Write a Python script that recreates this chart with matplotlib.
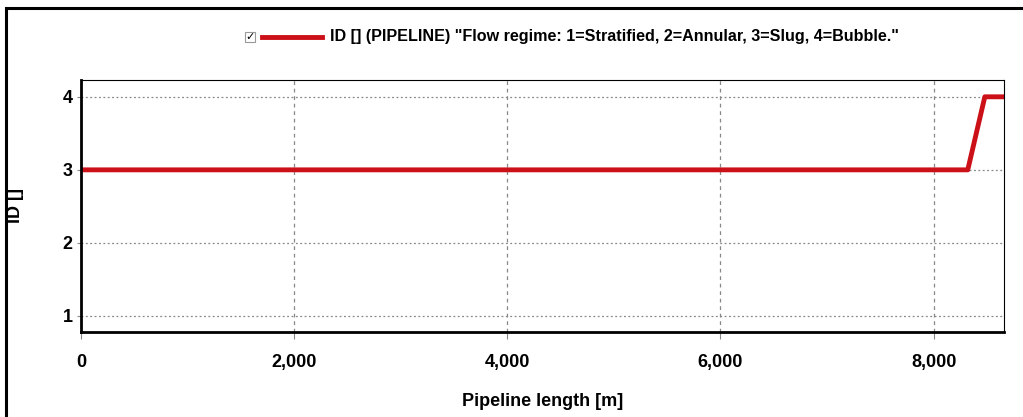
import matplotlib.pyplot as plt
from matplotlib.patches import Rectangle
from matplotlib.lines import Line2D

# pipeline profile: flow regime ID vs length
length = [0, 8320, 8480, 8660]
regime = [3, 3, 4, 4]

xticks = [0, 2000, 4000, 6000, 8000]
xticklabels = ["0", "2,000", "4,000", "6,000", "8,000"]
yticks = [1, 2, 3, 4]

legend_text = 'ID [] (PIPELINE) "Flow regime: 1=Stratified, 2=Annular, 3=Slug, 4=Bubble."'

plt.rcParams['font.family'] = ['Liberation Sans', 'DejaVu Sans']
plt.rcParams['font.weight'] = 'bold'

fig = plt.figure(figsize=(10.23, 4.17), dpi=100)
W, H = 1023, 417
red = '#cc1018'

# outer frame (clipped on right/bottom like the screenshot)
fig.patches.append(Rectangle((6 / W, -0.1), 1.2, (417 - 8) / H + 0.1,
                             transform=fig.transFigure, fill=False,
                             edgecolor='black', linewidth=2.2))

ax = fig.add_axes([81 / W, (H - 332) / H, (1004 - 81) / W, (332 - 80) / H])
ax.plot(length, regime, color=red, linewidth=3.5, solid_capstyle='butt')

ax.set_xlim(0, 8660)
ax.set_ylim(0.78, 4.23)
ax.set_xticks(xticks)
ax.set_xticklabels(xticklabels)
ax.set_yticks(yticks)
ax.tick_params(axis='x', labelsize=13, length=5, pad=11, color='#888888', width=0.8)
ax.tick_params(axis='y', labelsize=13, length=3, pad=3, color='#888888', width=0.8)
for lab in ax.get_xticklabels() + ax.get_yticklabels():
    lab.set_fontweight('bold')

ax.xaxis.grid(True, color='#888888', linestyle=(0, (3, 3)), linewidth=0.9)
ax.yaxis.grid(True, color='#888888', linestyle=(0, (1.5, 2)), linewidth=0.9)
ax.spines['left'].set_linewidth(2)
ax.spines['bottom'].set_linewidth(2)
ax.spines['top'].set_linewidth(0.8)
ax.spines['right'].set_linewidth(0.8)

ax.set_xlabel('Pipeline length [m]', fontsize=13, fontweight='bold')
ax.xaxis.set_label_coords(0.5, (332 - 401) / 252, transform=ax.transAxes)
ax.xaxis.label.set_va('center')
ax.set_ylabel('ID []', fontsize=13, fontweight='bold')
ax.yaxis.set_label_coords((16 - 81) / 923, 0.5, transform=ax.transAxes)
ax.yaxis.label.set_va('center')

# legend row with checkbox
fig.patches.append(Rectangle((245 / W, (H - 42) / H), 10 / W, 10 / H,
                             transform=fig.transFigure, fill=False,
                             edgecolor='#999999', linewidth=0.8))
fig.text(250 / W, (H - 37) / H, '✓', fontsize=8, ha='center', va='center',
         family=['DejaVu Sans'])
fig.lines.append(Line2D([262 / W, 322 / W], [(H - 37) / H, (H - 37) / H],
                        transform=fig.transFigure, color=red, linewidth=3.5))
fig.text(330 / W, (H - 37) / H, legend_text, fontsize=11.6, fontweight='bold',
         va='center', ha='left')

fig.savefig('out.png', dpi=100)
